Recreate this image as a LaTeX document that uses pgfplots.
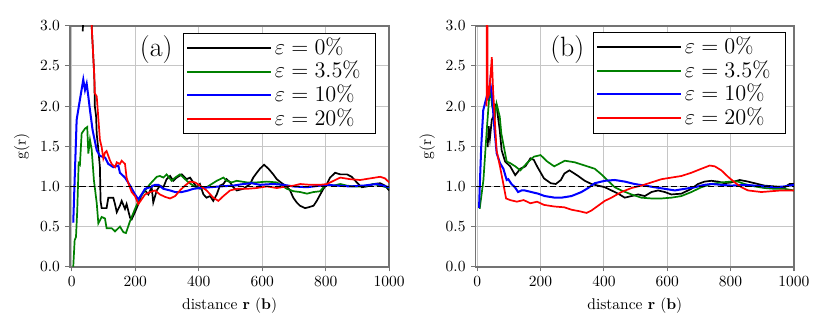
\documentclass[border=0pt]{standalone}
\usepackage{pgfplots}
\pgfplotsset{compat=1.18}
\definecolor{mplgreen}{rgb}{0,0.5,0}

\pgfplotsset{
  panel/.style={
    scale only axis, width=205.8pt, height=155.4pt,
    xmin=-5, xmax=1000, ymin=0, ymax=3,
    xtick={0,200,...,1000}, ytick={0,0.5,...,3},
    grid=major, grid style={gray!45, line width=0.6pt},
    axis line style={black!55, line width=1pt},
    tick style={black!55, line width=0.7pt}, major tick length=3pt, tick align=outside,
    xtick pos=bottom, ytick pos=left,
    yticklabel style={/pgf/number format/.cd, fixed, fixed zerofill, precision=1},
    xticklabel style={/pgf/number format/1000 sep={}},
    xlabel={distance $\mathbf{r}$ ($\mathbf{b}$)},
    ylabel={g(r)},
    legend cell align=left,
    legend style={font=\fontsize{15.5}{15.5}\selectfont, draw=black, thin,
      inner xsep=1.5pt, inner ysep=2pt, row sep=0pt,
      nodes={inner ysep=0.6pt, text height=11pt, text depth=3pt}},
    legend image code/.code={\draw[#1] (0pt,0pt) -- (41pt,0pt);
      \path (0pt,0pt) -- (54pt,0pt);},
  },
  curve/.style={line width=1.1pt},
}
\newcommand{\pad}{\hspace*{6pt}}

\begin{document}
\begin{tikzpicture}
\path[use as bounding box] (0,0) rectangle (535.35pt,214.14pt);

% (a)
\begin{axis}[panel, at={(45.2pt,42.1pt)}, anchor=south west,
  legend style={at={(0.958,0.970)}, anchor=north east}]
\addplot[black, curve] coordinates {
(35,2.93) (40,3.6) (58,3.6) (63,3.0) (71.3,2.37) (73,2.0) (77,1.87) (79,1.65) (84,1.46)
(89,1.24) (91,0.82) (94.5,0.73) (110,0.73) (115.5,0.86) (131,0.86) (136.5,0.78) (142,0.68)
(152,0.76) (157.5,0.82) (168,0.72) (173,0.78) (184,0.61) (189,0.59) (199.5,0.68) (210,0.78)
(220.6,0.9) (231,0.95) (241.6,0.9) (252,0.99) (257,0.8) (268,0.95) (278,1.01) (289,0.99)
(299,1.09) (310,1.13) (320,1.07) (331,1.11) (347,1.15) (362,1.09) (373,1.11) (383,1.05)
(394,0.99) (404,1.03) (415,0.9) (425,0.86) (436,0.88) (446,0.82) (457,0.9) (467,1.01)
(478,1.03) (488,1.09) (499,1.05) (509,0.99) (520,0.95) (541,0.97) (562,1.03) (572,1.11)
(583,1.17) (593,1.22) (606,1.27) (620,1.22) (635,1.15) (646,1.09) (662,1.04) (677,1.0)
(688,0.95) (698,0.86) (709,0.8) (719,0.76) (735,0.73) (746,0.74) (762,0.76) (772,0.82)
(783,0.9) (793,0.97) (804,1.03) (814,1.11) (830,1.17) (846,1.15) (867,1.15) (882,1.12)
(898,1.05) (914,0.99) (930,1.0) (951,1.03) (972,1.04) (987,1.01) (1000,0.95)
};
\addlegendentry{$\varepsilon = 0\%$\pad}
\addplot[mplgreen, curve] coordinates {
(5,0) (9.4,0.33) (13.6,0.37) (17.7,0.71) (22,1.29) (26,1.27) (31.5,1.66) (42,1.72) (49,1.74)
(52.5,1.41) (57.7,1.58) (63,1.46) (70,1.08) (79,0.79) (84,0.54) (94.6,0.62) (105,0.6)
(110,0.48) (126,0.48) (136.6,0.44) (152,0.5) (163,0.43) (171,0.42) (184,0.57) (199.5,0.72)
(215,0.86) (231,0.95) (247,1.03) (268,1.12) (278,1.13) (289,1.11) (299,1.15) (315,1.07)
(326,1.11) (341,1.15) (352,1.11) (368,1.05) (383,1.01) (404,0.97) (425,0.99) (441,1.03)
(457,1.07) (478,1.11) (488,1.07) (504,1.05) (520,1.07) (552,1.05) (583,1.05) (615,1.06)
(646,1.05) (662,1.01) (678,0.97) (699,0.94) (720,0.93) (741,0.91) (762,0.93) (783,0.94)
(793,0.99) (804,1.03) (825,1.01) (846,1.03) (867,1.01) (888,1.0) (909,1.0) (930,1.01)
(951,1.03) (972,1.01) (1000,0.98)
};
\addlegendentry{$\varepsilon = 3.5\%$\pad}
\addplot[blue, line width=1.3pt] coordinates {
(5,0.55) (10.4,1.2) (15.7,1.83) (26,2.08) (36.6,2.33) (42,2.2) (47.3,2.28) (52.5,2.12)
(57.7,1.95) (66,1.7) (79,1.45) (89,1.38) (105,1.36) (115.5,1.28) (131,1.24) (147,1.26)
(152,1.17) (168,1.11) (184,1.01) (199.5,0.9) (210,0.84) (220.6,0.9) (231,0.97) (247,0.99)
(262.6,1.02) (273,1.02) (289,0.97) (310,0.95) (326,0.93) (347,0.93) (368,0.95) (383,0.97)
(404,0.98) (436,0.99) (467,1.0) (509,1.01) (541,1.03) (567,1.04) (593,1.02) (635,1.03)
(667,1.02) (698,1.0) (741,0.99) (783,1.01) (804,1.02) (835,1.01) (877,1.0) (919,1.01)
(961,1.03) (1000,0.99)
};
\addlegendentry{$\varepsilon = 10\%$\pad}
\addplot[red, curve] coordinates {
(60,3.5) (63,3.0) (71.3,2.37) (73,2.16) (79,2.12) (89,1.58) (94.5,1.49) (99.7,1.35) (105,1.42)
(110,1.44) (121,1.32) (126,1.28) (136.6,1.24) (142,1.3) (152,1.28) (157.5,1.32) (168,1.28)
(173,1.11) (178.6,1.04) (189,0.93) (199.5,0.88) (210,0.78) (220.6,0.84) (231,0.9) (247,0.93)
(262.6,0.95) (278,0.9) (294,0.87) (310,0.85) (326,0.88) (341,0.95) (357,1.01) (373,1.06)
(389,1.05) (404,1.01) (425,0.95) (446,0.86) (462,0.82) (478,0.88) (499,0.95) (520,0.97)
(552,0.97) (583,0.98) (615,1.0) (646,0.98) (678,1.0) (699,1.01) (720,1.03) (751,1.02)
(783,1.02) (804,1.03) (825,1.07) (846,1.11) (877,1.09) (909,1.08) (940,1.1) (972,1.12)
(987,1.1) (1000,1.05)
};
\addlegendentry{$\varepsilon = 20\%$\pad}
\addplot[black, dashed, forget plot, line width=0.9pt, dash pattern=on 4pt off 2pt]
  coordinates {(-5,1) (1000,1)};
\node[font=\fontsize{18}{18}\selectfont] at (rel axis cs:0.27,0.90) {(a)};
\end{axis}

% (b)
\begin{axis}[panel, at={(306.8pt,42.1pt)}, anchor=south west, width=205.3pt,
  legend style={at={(0.974,0.974)}, anchor=north east}]
\addplot[black, curve] coordinates {
(33,1.49) (36,1.75) (40,1.6) (46,1.83) (51,1.87) (56,2.02) (61.5,2.01) (66,1.85) (71,1.7)
(77,1.45) (88,1.31) (104,1.25) (120,1.14) (136,1.22) (152,1.25) (168,1.35) (178.6,1.33)
(189,1.25) (210.7,1.1) (232,1.04) (248,1.03) (264,1.08) (275,1.16) (291,1.2) (307,1.16)
(318.6,1.13) (339.6,1.07) (360.7,1.03) (381.7,1.01) (402.7,0.99) (423.8,0.95) (444.8,0.91)
(465.8,0.86) (487,0.88) (508,0.9) (529,0.88) (550,0.93) (571,0.95) (592,0.93) (613,0.9)
(644.6,0.91) (676,0.97) (697,1.03) (718,1.06) (739,1.07) (760,1.06) (781,1.04) (802,1.05)
(828.6,1.08) (855,1.06) (886,1.03) (907,1.01) (939,1.0) (970.5,0.99) (986,1.03) (1000,1.03)
};
\addlegendentry{$\varepsilon = 0\%$\pad}
\addplot[mplgreen, curve] coordinates {
(5.7,0.73) (8,0.73) (19.5,1.08) (30,1.7) (40.5,2.26) (47,2.0) (56,1.87) (61,2.03) (66,1.95)
(71,1.87) (76,1.66) (82,1.535) (93,1.31) (104,1.29) (120,1.25) (136,1.2) (157,1.29)
(178.6,1.37) (200,1.39) (221,1.31) (243,1.25) (276.6,1.32) (308,1.3) (339.6,1.26) (371,1.22)
(392,1.15) (413,1.07) (434,0.99) (455,0.95) (487,0.9) (518,0.86) (550,0.85) (581.5,0.85)
(613,0.86) (644.6,0.88) (676,0.93) (707.7,0.99) (739,1.03) (771,1.05) (802,1.06) (823,1.06)
(844,1.03) (876,1.0) (907,0.98) (939,0.97) (970.5,0.97) (1000,0.95)
};
\addlegendentry{$\varepsilon = 3.5\%$\pad}
\addplot[blue, line width=1.3pt] coordinates {
(5.7,0.73) (8,1.0) (12.5,1.49) (19,1.95) (30,2.12) (35,2.1) (40.5,2.3) (46,2.16) (54.6,1.7)
(61.5,1.41) (72,1.29) (82.5,1.22) (93,1.08) (98,1.09) (108,1.03) (119,0.99) (129,0.93)
(140,0.95) (150,0.95) (171,0.93) (192,0.91) (213,0.88) (245,0.86) (266,0.86) (297.6,0.88)
(329,0.93) (350,0.98) (371,1.04) (402.7,1.07) (434,1.08) (466,1.06) (497,1.03) (529,1.01)
(560,0.99) (592,0.97) (624,0.95) (655,0.97) (687,0.99) (718,1.02) (739,1.03) (771,1.02)
(802,1.01) (844,1.02) (876,1.01) (907,1.0) (939,0.99) (970.5,1.0) (1000,1.02)
};
\addlegendentry{$\varepsilon = 10\%$\pad}
\addplot[red, curve] coordinates {
(29.5,2.0) (30.5,3.5) (31.5,3.5) (33,2.1) (38,2.15) (46,2.61) (50,2.2) (61,1.45) (71.7,1.25)
(82,1.04) (91,0.85) (104,0.83) (125,0.81) (146.5,0.83) (168,0.79) (189,0.81) (210.7,0.77)
(243,0.75) (275,0.74) (297.6,0.71) (324,0.69) (345,0.67) (360.7,0.7) (381.7,0.76) (402.7,0.82)
(423.8,0.86) (455,0.93) (487,0.98) (518,1.01) (550,1.05) (581.5,1.09) (613,1.11)
(644.6,1.13) (676,1.17) (707.7,1.22) (734,1.26) (750,1.25) (770.8,1.2) (791.8,1.12)
(813,1.05) (833.9,0.99) (855,0.95) (876,0.94) (897,0.93) (928.5,0.94) (960,0.95) (1000,0.95)
};
\addlegendentry{$\varepsilon = 20\%$\pad}
\addplot[black, dashed, forget plot, line width=0.9pt, dash pattern=on 4pt off 2pt]
  coordinates {(-5,1) (1000,1)};
\node[font=\fontsize{18}{18}\selectfont] at (rel axis cs:0.288,0.90) {(b)};
\end{axis}
\end{tikzpicture}
\end{document}
